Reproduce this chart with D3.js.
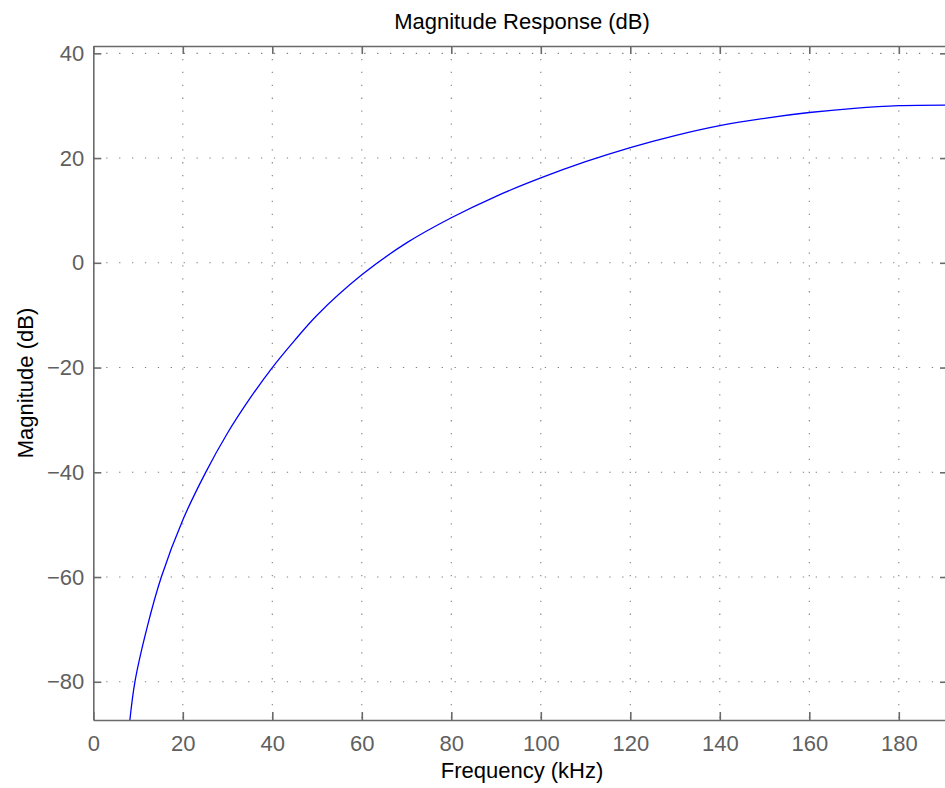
<!DOCTYPE html>
<html>
<head>
<meta charset="utf-8">
<script src="https://cdn.jsdelivr.net/npm/d3@7"></script>
<style>
  body { margin: 0; background: #fff; }
  svg { display: block; font-family: "Liberation Sans", Arial, sans-serif; }
  .tick text { fill: #5f5f5f; font-size: 22px; }
  .axis path, .axis line { stroke: #6a6a6a; stroke-width: 1.6; }
  .grid line { stroke: #808080; stroke-width: 1.1; stroke-dasharray: 1.3, 11.6; }
  .label { fill: #000; font-size: 22px; }
</style>
</head>
<body>
<script>
// chart size
const width = 945
const height = 788
const margin = {top: 46, left: 93.3, bottom: 68}
const innerheight = height - margin.top - margin.bottom

// data (kHz, dB)
const freq = [8, 9.3, 12, 15.2, 20, 25, 30, 35, 40, 45, 50, 60, 70, 80, 90, 100, 110, 120, 130, 140, 150, 160, 170, 180, 191]
const magDb = [-88.7, -80, -69.7, -60, -49.1, -40.2, -32.5, -25.9, -20.0, -14.8, -10.0, -2.3, 3.8, 8.6, 12.7, 16.2, 19.3, 22.0, 24.3, 26.2, 27.6, 28.7, 29.5, 30.0, 30.1]
const xTicks = [0, 20, 40, 60, 80, 100, 120, 140, 160, 180]
const yTicks = [-80, -60, -40, -20, 0, 20, 40]

const xMax = 191
const yMin = -87.3, yMax = 41.4

const svg = d3.select("body").append("svg")
    .attr("width", width)
    .attr("height", height)

const g = svg.append("g")
    .attr("transform", `translate(${margin.left},${margin.top})`)

// x scale: about 4.475 px per kHz, plot runs past the right edge
const xScale = d3.scaleLinear().domain([0, xMax]).range([0, 4.475 * xMax])
const yScale = d3.scaleLinear().domain([yMin, yMax]).range([innerheight, 0])
const innerwidth = xScale(xMax)

// dotted grid
g.append("g").attr("class", "grid")
  .selectAll("line").data(xTicks.filter(d => d > 0))
  .enter().append("line")
    .attr("x1", d => xScale(d)).attr("x2", d => xScale(d))
    .attr("y1", 0).attr("y2", innerheight)

g.append("g").attr("class", "grid")
  .selectAll("line").data(yTicks)
  .enter().append("line")
    .attr("x1", 0).attr("x2", innerwidth)
    .attr("y1", d => yScale(d)).attr("y2", d => yScale(d))

// clip for the curve
svg.append("clipPath").attr("id", "clip")
  .append("rect").attr("width", innerwidth).attr("height", innerheight)

const data = freq.map((f, i) => ({f: f, v: magDb[i]}))

const line = d3.line()
    .x(d => xScale(d.f))
    .y(d => yScale(d.v))
    .curve(d3.curveCatmullRom.alpha(0.5))

g.append("path")
    .datum(data)
    .attr("clip-path", "url(#clip)")
    .attr("fill", "none")
    .attr("stroke", "#0000ff")
    .attr("stroke-width", 1.3)
    .attr("d", line)

// axes, ticks point inward
g.append("g").attr("class", "axis")
    .attr("transform", `translate(0,${innerheight})`)
    .call(d3.axisBottom(xScale).tickValues(xTicks).tickSizeInner(-8).tickSizeOuter(0).tickPadding(15))

g.append("g").attr("class", "axis")
    .call(d3.axisTop(xScale).tickValues(xTicks).tickSizeInner(-8).tickSizeOuter(0).tickFormat(""))

g.append("g").attr("class", "axis")
    .call(d3.axisLeft(yScale).tickValues(yTicks).tickSizeInner(-8).tickSizeOuter(0).tickPadding(9))

g.append("g").attr("class", "axis")
    .attr("transform", `translate(${innerwidth},0)`)
    .call(d3.axisRight(yScale).tickValues(yTicks).tickSizeInner(-8).tickSizeOuter(0).tickFormat(""))

// labels
svg.append("text").attr("class", "label")
    .attr("x", 522).attr("y", 29)
    .attr("text-anchor", "middle")
    .text("Magnitude Response (dB)")

svg.append("text").attr("class", "label")
    .attr("x", 522).attr("y", 778)
    .attr("text-anchor", "middle")
    .text("Frequency (kHz)")

svg.append("text").attr("class", "label")
    .attr("transform", `translate(33,${margin.top + innerheight / 2}) rotate(-90)`)
    .attr("text-anchor", "middle")
    .text("Magnitude (dB)")
</script>
</body>
</html>
